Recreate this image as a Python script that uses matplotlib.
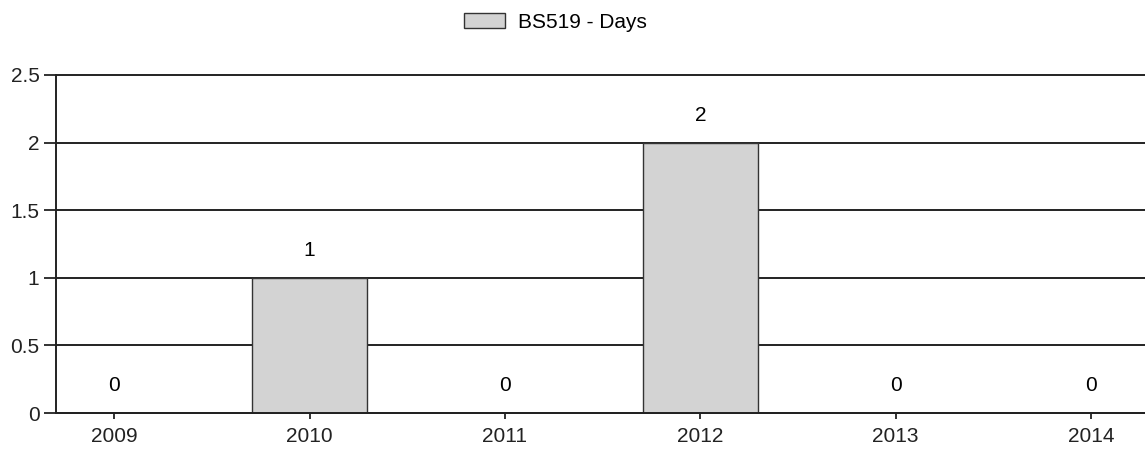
import matplotlib

matplotlib.use("Agg")
import matplotlib.pyplot as plt
from matplotlib.patches import Patch

# data
years = ["2009", "2010", "2011", "2012", "2013", "2014"]
days = [0, 1, 0, 2, 0, 0]
series_label = "BS519 - Days"

plt.rcParams["font.family"] = ["Liberation Sans", "DejaVu Sans"]
plt.rcParams["font.size"] = 15

fig = plt.figure(figsize=(11.45, 4.49), dpi=100)
ax = fig.add_axes([0.049, 0.080, 0.951, 0.753])

xs = list(range(len(years)))
ax.set_axisbelow(True)
ax.yaxis.grid(True, color="#222222", linewidth=1.4)
ax.bar(xs, days, width=0.59, color="#d3d3d3", edgecolor="#333333", linewidth=1.0, zorder=2)

for x, v in zip(xs, days):
    ax.annotate(str(v), (x, v), xytext=(0, 19.5), textcoords="offset points",
                ha="center", va="center", fontsize=15)

ax.set_xlim(-0.297, 5.276)
ax.set_ylim(0, 2.5)
ax.set_yticks([0, 0.5, 1, 1.5, 2, 2.5])
ax.set_yticklabels(["0", "0.5", "1", "1.5", "2", "2.5"])
ax.set_xticks(xs)
ax.set_xticklabels(years)
for gl in ax.yaxis.get_gridlines():
    gl.set_clip_on(False)

for s in ["top", "right"]:
    ax.spines[s].set_visible(False)
for s in ["left", "bottom"]:
    ax.spines[s].set_color("#222222")
    ax.spines[s].set_linewidth(1.4)
ax.tick_params(axis="y", length=9, width=1.3, pad=3, colors="#222222")
ax.tick_params(axis="x", length=4, width=1.3, pad=6, colors="#222222")

handle = Patch(facecolor="#d3d3d3", edgecolor="#333333", linewidth=1.0)
fig.legend([handle], [series_label], loc="center", bbox_to_anchor=(0.485, 0.95),
           frameon=False, handlelength=2.0, handleheight=0.75, handletextpad=0.6,
           fontsize=15)

fig.savefig("out.png", dpi=100)
plt.close(fig)
